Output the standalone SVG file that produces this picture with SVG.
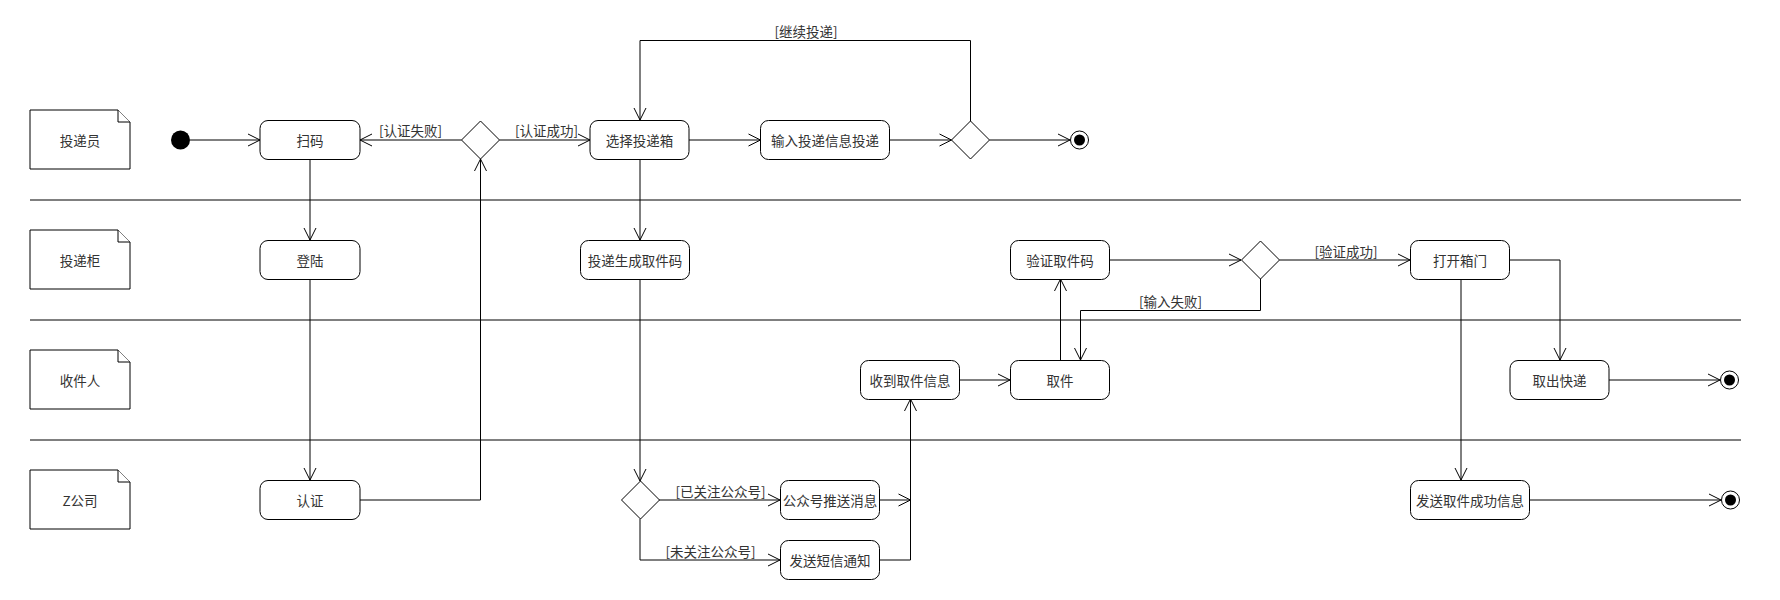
<svg xmlns="http://www.w3.org/2000/svg" width="1780" height="600" viewBox="0 0 1780 600">
<style>
.t{font-family:"Noto Sans CJK SC","Noto Sans",sans-serif;font-size:13.5px;fill:#333;text-anchor:middle;dominant-baseline:central}
.l{font-family:"Noto Sans CJK SC","Noto Sans",sans-serif;font-size:13.5px;fill:#333;text-anchor:middle}
.box{fill:#fff;stroke:#000;stroke-width:1}
.note{fill:#fff;stroke:#000;stroke-width:1}
.c{fill:none;stroke:#000;stroke-width:1;marker-end:url(#arr)}
.lane{stroke:#000;stroke-width:1}
</style>
<defs>
<marker id="arr" viewBox="-1 -1 15 14" markerWidth="15" markerHeight="14" refX="12" refY="6" orient="auto" markerUnits="userSpaceOnUse" overflow="visible">
<path d="M0,0 L12,6 L0,12" fill="none" stroke="#000" stroke-width="1"/>
</marker>
</defs>
<rect width="1780" height="600" fill="#fff"/>
<g id="lanes">
<line class="lane" x1="30" y1="200" x2="1741" y2="200"/>
<line class="lane" x1="30" y1="320" x2="1741" y2="320"/>
<line class="lane" x1="30" y1="440" x2="1741" y2="440"/>
</g>
<g id="note-toudiyuan"><path class="note" d="M30,110 H118 L130,122 V169 H30 Z"/><path class="note" d="M118,110 V122 H130" fill="none"/><text class="t" x="80" y="140">投递员</text></g>
<g id="note-toudigui"><path class="note" d="M30,230 H118 L130,242 V289 H30 Z"/><path class="note" d="M118,230 V242 H130" fill="none"/><text class="t" x="80" y="260">投递柜</text></g>
<g id="note-shoujianren"><path class="note" d="M30,350 H118 L130,362 V409 H30 Z"/><path class="note" d="M118,350 V362 H130" fill="none"/><text class="t" x="80" y="380">收件人</text></g>
<g id="note-zcompany"><path class="note" d="M30,470 H118 L130,482 V529 H30 Z"/><path class="note" d="M118,470 V482 H130" fill="none"/><text class="t" x="80" y="500">Z公司</text></g>

<g id="connectors">
<path class="c" d="M190,140 H260"/>
<path class="c" d="M461.5,140 H360"/>
<path class="c" d="M499.5,140 H590"/>
<path class="c" d="M689,140 H760.5"/>
<path class="c" d="M889.5,140 H951.5"/>
<path class="c" d="M989.5,140 H1070"/>
<path class="c" d="M970.5,121 V40.5 H640 V120"/>
<path class="c" d="M310,159 V240"/>
<path class="c" d="M310,279 V480"/>
<path class="c" d="M360,500 H480.5 V159"/>
<path class="c" d="M640,159 V240"/>
<path class="c" d="M640,279 V481"/>
<path class="c" d="M659,500 H780"/>
<path class="c" d="M640,519 V560 H780"/>
<path class="c" d="M879,500 H910.5"/>
<path class="c" d="M879,560 H910.5 V399"/>
<path class="c" d="M959.5,380 H1010"/>
<path class="c" d="M1060.5,360 V279"/>
<path class="c" d="M1109,260 H1241"/>
<path class="c" d="M1279.5,260 H1410"/>
<path class="c" d="M1260.5,279 V310.5 H1080.5 V360"/>
<path class="c" d="M1509,260 H1560 V360"/>
<path class="c" d="M1461,279 V480"/>
<path class="c" d="M1609,380 H1720"/>
<path class="c" d="M1529,500 H1721"/>
<text class="l" x="410.5" y="136">[认证失败]</text>
<text class="l" x="546.5" y="136">[认证成功]</text>
<text class="l" x="806" y="36.5">[继续投递]</text>
<text class="l" x="1346" y="256.5">[验证成功]</text>
<text class="l" x="1170.5" y="306.5">[输入失败]</text>
<text class="l" x="720.5" y="496.5">[已关注公众号]</text>
<text class="l" x="710.5" y="556.5">[未关注公众号]</text>
</g>

<g id="start"><circle cx="180.5" cy="140" r="9.5" fill="#000"/></g>
<g id="saoma"><rect class="box" x="260" y="120.5" width="100" height="39" rx="8"/><text class="t" x="310" y="140">扫码</text></g>
<g id="decision-auth"><path class="box" d="M480.5,121 L499.5,140 L480.5,159 L461.5,140 Z"/></g>
<g id="xuanze"><rect class="box" x="590" y="120.5" width="99" height="39" rx="8"/><text class="t" x="639.5" y="140">选择投递箱</text></g>
<g id="shuru"><rect class="box" x="760.5" y="120.5" width="129" height="39" rx="8"/><text class="t" x="825" y="140">输入投递信息投递</text></g>
<g id="decision-continue"><path class="box" d="M970.5,121 L989.5,140 L970.5,159 L951.5,140 Z"/></g>
<g id="end1"><circle cx="1079.5" cy="140" r="9" fill="#fff" stroke="#000"/><circle cx="1079.5" cy="140" r="5.5" fill="#000"/></g>

<g id="denglu"><rect class="box" x="260" y="240.5" width="100" height="39" rx="8"/><text class="t" x="310" y="260">登陆</text></g>
<g id="shengcheng"><rect class="box" x="580.5" y="240.5" width="109" height="39" rx="8"/><text class="t" x="635" y="260">投递生成取件码</text></g>
<g id="yanzheng"><rect class="box" x="1010.5" y="240.5" width="99" height="39" rx="8"/><text class="t" x="1060" y="260">验证取件码</text></g>
<g id="decision-verify"><path class="box" d="M1260.5,241 L1279.5,260 L1260.5,279 L1241.5,260 Z"/></g>
<g id="dakai"><rect class="box" x="1410.5" y="240.5" width="99" height="39" rx="8"/><text class="t" x="1460" y="260">打开箱门</text></g>

<g id="shoudao"><rect class="box" x="860.5" y="360.5" width="99" height="39" rx="8"/><text class="t" x="910" y="380">收到取件信息</text></g>
<g id="qujian"><rect class="box" x="1010.5" y="360.5" width="99" height="39" rx="8"/><text class="t" x="1060" y="380">取件</text></g>
<g id="quchu"><rect class="box" x="1510" y="360.5" width="99" height="39" rx="8"/><text class="t" x="1559.5" y="380">取出快递</text></g>
<g id="end2"><circle cx="1729.5" cy="380" r="9" fill="#fff" stroke="#000"/><circle cx="1729.5" cy="380" r="5.5" fill="#000"/></g>

<g id="renzheng"><rect class="box" x="260" y="480.5" width="100" height="39" rx="8"/><text class="t" x="310" y="500">认证</text></g>
<g id="decision-follow"><path class="box" d="M640.5,481 L659.5,500 L640.5,519 L621.5,500 Z"/></g>
<g id="gongzhonghao"><rect class="box" x="780.5" y="480.5" width="99" height="39" rx="8"/><text class="t" x="830" y="500">公众号推送消息</text></g>
<g id="duanxin"><rect class="box" x="780.5" y="540.5" width="99" height="39" rx="8"/><text class="t" x="830" y="560">发送短信通知</text></g>
<g id="fasong"><rect class="box" x="1410.5" y="480.5" width="119" height="39" rx="8"/><text class="t" x="1470" y="500">发送取件成功信息</text></g>
<g id="end3"><circle cx="1730.5" cy="500" r="9" fill="#fff" stroke="#000"/><circle cx="1730.5" cy="500" r="5.5" fill="#000"/></g>
</svg>
